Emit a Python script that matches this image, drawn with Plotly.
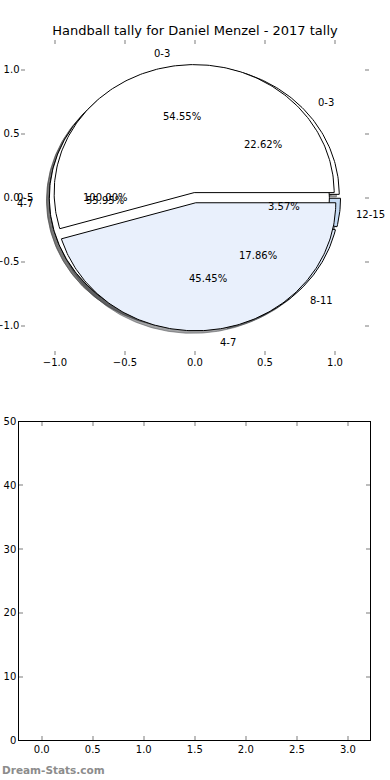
import numpy as np
import plotly.graph_objects as go

# ---- data ----
pie_a_labels = ["0-3", "4-7"]
pie_a_counts = [6, 5]
pie_b_labels = ["0-3", "4-7", "8-11", "12-15"]
pie_b_counts = [19, 47, 15, 3]
pie_c_labels = ["0-5"]
pie_c_counts = [1]

title_text = "Handball tally for Daniel Menzel - 2017 tally"
top_ticks = [-1.0, -0.5, 0.0, 0.5, 1.0]
bottom_xticks = [0.0, 0.5, 1.0, 1.5, 2.0, 2.5, 3.0]
bottom_yticks = [0, 10, 20, 30, 40, 50]

# ---- styles ----
pie_a_colors = ["#ffffff", "#e9f0fc"]
pie_b_colors = ["#ffffff", "#ffffff", "#dbe7f8", "#c4daf4"]
pie_c_colors = ["#ffffff"]
EXPLODE = 0.04
FONT = "DejaVu Sans"

fig = go.Figure()
annotations = []


def wedge_geom(counts, explode):
    vals = np.asarray(counts, dtype=float)
    fr = vals / vals.sum()
    out = []
    t1 = 0.0
    for f in fr:
        t2 = t1 + 360.0 * f
        mid = np.deg2rad((t1 + t2) / 2.0)
        cx, cy = explode * np.cos(mid), explode * np.sin(mid)
        n = max(int(abs(t2 - t1)) + 2, 3)
        th = np.deg2rad(np.linspace(t1, t2, n))
        ax = cx + np.cos(th)
        ay = cy + np.sin(th)
        if abs(f - 1.0) < 1e-9:
            xs, ys = list(ax), list(ay)
        else:
            xs = [cx] + list(ax) + [cx]
            ys = [cy] + list(ay) + [cy]
        out.append(dict(x=np.array(xs), y=np.array(ys), mid=mid, cx=cx, cy=cy, frac=f))
        t1 = t2
    return out


pies = [
    (pie_b_labels, pie_b_counts, pie_b_colors),
    (pie_c_labels, pie_c_counts, pie_c_colors),
    (pie_a_labels, pie_a_counts, pie_a_colors),
]

geoms = [wedge_geom(c, EXPLODE) for _, c, _ in pies]

# shadows first (drawn below all wedges)
for (labels, counts, colors), g in zip(pies, geoms):
    for w, col in zip(g, colors):
        r, gg, b = [int(col[i:i + 2], 16) for i in (1, 3, 5)]
        sc = "rgba(%d,%d,%d,0.5)" % (int(0.3 * r), int(0.3 * gg), int(0.3 * b))
        fig.add_trace(go.Scatter(x=w["x"] - 0.02, y=w["y"] - 0.02, mode="lines",
                                 fill="toself", fillcolor=sc,
                                 line=dict(color=sc, width=1),
                                 hoverinfo="skip", showlegend=False,
                                 xaxis="x", yaxis="y"))

# wedges + labels
for (labels, counts, colors), g in zip(pies, geoms):
    for w, col, lab in zip(g, colors, labels):
        fig.add_trace(go.Scatter(x=w["x"], y=w["y"], mode="lines",
                                 fill="toself", fillcolor=col,
                                 line=dict(color="black", width=1),
                                 hoverinfo="skip", showlegend=False,
                                 xaxis="x", yaxis="y"))
        cm, sm = np.cos(w["mid"]), np.sin(w["mid"])
        lx, ly = w["cx"] + 1.1 * cm, w["cy"] + 1.1 * sm
        annotations.append(dict(x=lx, y=ly, xref="x", yref="y", text=lab,
                                showarrow=False, xanchor="left" if lx > 0 else "right",
                                yanchor="middle",
                                font=dict(family=FONT, size=10, color="black")))
        px, py = w["cx"] + 0.6 * cm, w["cy"] + 0.6 * sm
        annotations.append(dict(x=px, y=py, xref="x", yref="y",
                                text="%1.2f%%" % (100 * w["frac"]),
                                showarrow=False, xanchor="center", yanchor="middle",
                                font=dict(family=FONT, size=10, color="black")))

# empty bottom axes
fig.add_trace(go.Scatter(x=[], y=[], xaxis="x2", yaxis="y2", showlegend=False))

annotations.append(dict(x=0.0, y=10 / 780, xref="paper", yref="paper",
                        text="Dream-Stats.com", showarrow=False,
                        xanchor="left", yanchor="middle",
                        font=dict(family=FONT, size=10.5, color="#8c8c8c", weight="bold")))

tick_common = dict(ticks="inside", ticklen=4, tickwidth=1.5, tickcolor="#bdbdbd",
                   showgrid=False, zeroline=False, automargin=False,
                   tickfont=dict(family=FONT, size=10, color="black"))

fig.update_layout(
    width=390, height=780,
    margin=dict(l=0, r=0, t=0, b=0, autoexpand=False),
    paper_bgcolor="white", plot_bgcolor="white",
    title=dict(text=title_text, x=0.5, xanchor="center", y=750 / 780, yanchor="middle",
               font=dict(family=FONT, size=13, color="black")),
    xaxis=dict(domain=[20.5 / 390, 369 / 390], range=[-1.246, 1.243],
               tickvals=top_ticks, tickformat=".1f", showline=False, mirror="ticks",
               anchor="y", **tick_common),
    yaxis=dict(domain=[(780 - 355) / 780, (780 - 40) / 780], range=[-1.229, 1.232],
               tickvals=top_ticks, tickformat=".1f", showline=False, mirror="ticks",
               anchor="x", **tick_common),
    xaxis2=dict(domain=[19.3 / 390, 370.3 / 390], range=[-0.22, 3.22],
                tickvals=bottom_xticks, tickformat=".1f", showline=True, linecolor="black",
                linewidth=1, mirror="ticks", anchor="y2", **tick_common),
    yaxis2=dict(domain=[(780 - 740.3) / 780, (780 - 421.7) / 780], range=[0, 50],
                tickvals=bottom_yticks, showline=True, linecolor="black",
                linewidth=1, mirror="ticks", anchor="x2", **tick_common),
    annotations=annotations,
)

fig.write_html("out.html", config={"displayModeBar": False},
               post_script="document.body.style.margin='0';")
